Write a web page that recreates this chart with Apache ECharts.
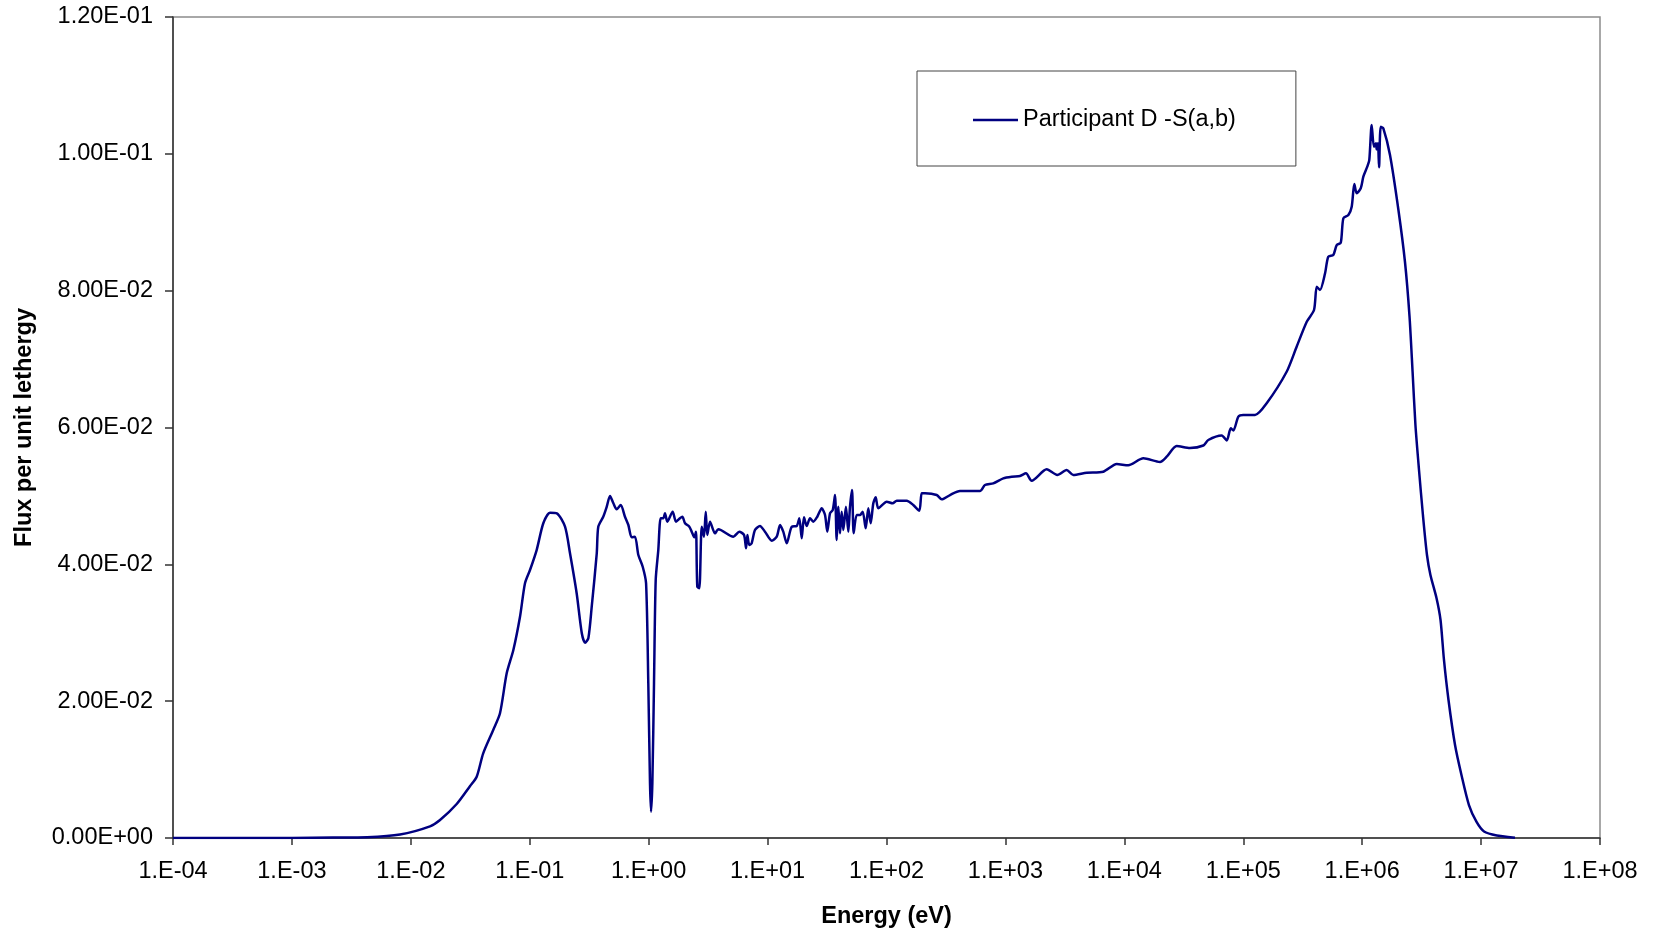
<!DOCTYPE html>
<html>
<head>
<meta charset="utf-8">
<title>Participant D -S(a,b) flux spectrum</title>
<script src="https://cdn.jsdelivr.net/npm/echarts@6/dist/echarts.min.js"></script>
<style>
  html, body { margin: 0; padding: 0; background: #ffffff; }
  #chart { width: 1653px; height: 936px; }
</style>
</head>
<body>
<div id="chart"></div>
<script>
// Neutron energy grid (eV)
const energy = [
  1e-4, 3.16e-4, 1e-3, 2.21e-3, 4.28e-3, 8.11e-3, 1.45e-2, 1.76e-2, 2.43e-2, 3.15e-2,
  3.58e-2, 4.06e-2, 4.93e-2, 5.62e-2, 6.40e-2, 7.28e-2, 8.28e-2, 9.12e-2, 0.1005, 0.1143,
  0.130, 0.148, 0.169, 0.198, 0.218, 0.248, 0.274, 0.292, 0.311, 0.332,
  0.366, 0.377, 0.415, 0.444, 0.473, 0.505, 0.538, 0.582, 0.632, 0.675,
  0.719, 0.767, 0.819, 0.891, 0.951, 0.993, 1.026, 1.047, 1.074, 1.109,
  1.146, 1.205, 1.262, 1.327, 1.371, 1.435, 1.592, 1.698, 1.832, 1.919,
  2.023, 2.198, 2.301, 2.421, 2.500, 2.564, 2.667, 2.793, 2.917, 3.020,
  3.112, 3.281, 3.614, 3.855, 5.152, 5.781, 6.339, 6.592, 6.761, 7.015,
  7.345, 7.834, 8.630, 9.506, 10.84, 11.94, 12.74, 13.55, 14.49, 15.96,
  17.58, 18.49, 19.36, 20.23, 21.33, 22.75, 24.21, 26.18, 28.51, 30.41,
  31.77, 33.50, 35.32, 36.90, 38.11, 39.36, 40.64, 41.98, 43.35, 45.60,
  47.75, 49.32, 51.29, 52.97, 56.10, 59.84, 63.10, 66.83, 70.31, 73.62,
  77.45, 81.10, 85.31, 100.5, 112.7, 121.9, 147.9, 167.9, 188.8, 197.7,
  210.9, 264.2, 291.1, 342.0, 415.0, 610.9, 673.0, 790.7, 959.4, 1130,
  1327, 1489, 1663, 2223, 2729, 3273, 3724, 4831, 6653, 8630,
  10790, 14450, 19950, 22700, 27540, 35650, 46130, 50820, 65920, 72610,
  78520, 82600, 91000, 1.0e5, 1.256e5, 1.574e5, 2.317e5, 2.812e5, 3.420e5, 3.936e5,
  4.150e5, 4.416e5, 4.875e5, 5.188e5, 5.715e5, 6.109e5, 6.607e5, 6.950e5, 7.656e5, 8.166e5,
  8.590e5, 8.995e5, 9.727e5, 1.023e6, 1.104e6, 1.148e6, 1.202e6, 1.256e6, 1.306e6, 1.324e6,
  1.358e6, 1.387e6, 1.432e6, 1.507e6, 1.714e6, 2.018e6, 2.291e6, 2.500e6, 2.655e6, 2.805e6,
  3.006e6, 3.243e6, 3.508e6, 3.750e6, 4.217e6, 4.560e6, 4.875e6, 5.321e6, 6.039e6, 6.839e6,
  7.907e6, 9.162e6, 1.059e7, 1.355e7, 1.928e7
];

// Flux per unit lethargy at each energy
const flux = [
  0, 0, 0.00001, 0.00007, 0.00012, 0.00051, 0.00171, 0.00263, 0.00497, 0.0076,
  0.00896, 0.01238, 0.01579, 0.01823, 0.02407, 0.02748, 0.03234, 0.03723, 0.03917, 0.04209,
  0.04600, 0.04755, 0.04746, 0.04550, 0.04161, 0.03577, 0.02992, 0.02855, 0.02919, 0.03381,
  0.04161, 0.04550, 0.04696, 0.04842, 0.04999, 0.04892, 0.04804, 0.04867, 0.04696, 0.04575,
  0.04395, 0.04404, 0.04136, 0.03965, 0.03723, 0.02261, 0.00800, 0.00384, 0.00800, 0.02261,
  0.03771, 0.04209, 0.04673, 0.04673, 0.04746, 0.04623, 0.04769, 0.04623, 0.04673, 0.04696,
  0.04600, 0.04550, 0.04477, 0.04395, 0.04477, 0.03673, 0.03650, 0.04550, 0.04404, 0.04769,
  0.04429, 0.04623, 0.04453, 0.04512, 0.04404, 0.04477, 0.04429, 0.04234, 0.04429, 0.04283,
  0.04307, 0.04502, 0.04560, 0.04477, 0.04345, 0.04404, 0.04575, 0.04477, 0.04307, 0.04550,
  0.04560, 0.04673, 0.04380, 0.04687, 0.04560, 0.04673, 0.04623, 0.04696, 0.04819, 0.04721,
  0.04477, 0.04746, 0.04794, 0.05013, 0.04356, 0.04842, 0.04453, 0.04769, 0.04502, 0.04842,
  0.04477, 0.04842, 0.05086, 0.04453, 0.04721, 0.04721, 0.04769, 0.04527, 0.04819, 0.04600,
  0.04892, 0.04980, 0.04819, 0.04915, 0.04892, 0.04930, 0.04930, 0.04867, 0.04784, 0.05038,
  0.05038, 0.05013, 0.04950, 0.05013, 0.05072, 0.05072, 0.05160, 0.05184, 0.05257, 0.05281,
  0.05291, 0.05330, 0.05222, 0.05389, 0.05306, 0.05379, 0.05306, 0.05339, 0.05354, 0.05466,
  0.05447, 0.05550, 0.05496, 0.05573, 0.05730, 0.05700, 0.05737, 0.05817, 0.05883, 0.05810,
  0.05988, 0.05956, 0.06158, 0.06183, 0.06183, 0.06354, 0.06815, 0.07181, 0.07546, 0.07717,
  0.08058, 0.08010, 0.08254, 0.08496, 0.08521, 0.08667, 0.08701, 0.09058, 0.09106, 0.09227,
  0.09559, 0.09423, 0.09496, 0.09666, 0.09812, 0.09910, 0.10421, 0.10104, 0.10154, 0.10066,
  0.10154, 0.09803, 0.10396, 0.10373, 0.09983, 0.09179, 0.08419, 0.07630, 0.06811, 0.06036,
  0.05379, 0.04721, 0.04136, 0.03844, 0.03508, 0.03186, 0.02602, 0.02017, 0.01359, 0.00921,
  0.00482, 0.00234, 0.00095, 0.00037, 0.00004
];

const seriesName = 'Participant D -S(a,b)';
const xAxisTitle = 'Energy (eV)';
const yAxisTitle = 'Flux per unit lethergy';

const FONT = '"Liberation Sans", Arial, sans-serif';
const LINE_COLOR = '#000080';

function pad2(n) { return (n < 10 ? '0' : '') + n; }

// Tick label like 1.E-04
function energyLabel(v) {
  const e = Math.round(Math.log10(v));
  return '1.E' + (e < 0 ? '-' : '+') + pad2(Math.abs(e));
}

// Tick label like 2.00E-02
function fluxLabel(v) {
  const s = Number(v).toExponential(2).split('e');
  const e = parseInt(s[1], 10);
  return s[0] + 'E' + (e < 0 ? '-' : '+') + pad2(Math.abs(e));
}

const points = energy.map((e, i) => [e, flux[i]]);

const chart = echarts.init(document.getElementById('chart'), null, { renderer: 'canvas' });

chart.setOption({
  backgroundColor: '#ffffff',
  animation: false,
  textStyle: { fontFamily: FONT },
  grid: {
    left: 173, right: 53, top: 17, bottom: 98,
    show: true, borderColor: '#8c8c8c', borderWidth: 1.5, backgroundColor: '#ffffff'
  },
  legend: {
    left: 917, top: 71,
    orient: 'horizontal',
    padding: [37, 60, 34, 56],
    borderColor: '#444444', borderWidth: 1,
    backgroundColor: '#ffffff',
    itemWidth: 45, itemHeight: 2.5,
    textStyle: { fontFamily: FONT, fontSize: 23.5, color: '#000000' },
    data: [{ name: seriesName, icon: 'rect', itemStyle: { color: LINE_COLOR } }]
  },
  xAxis: {
    type: 'log',
    logBase: 10,
    min: 1e-4, max: 1e8,
    interval: 1,
    name: xAxisTitle,
    nameLocation: 'middle',
    nameGap: 67,
    nameTextStyle: { fontFamily: FONT, fontSize: 23.5, fontWeight: 'bold', color: '#000000' },
    axisLine: { show: true, onZero: false, lineStyle: { color: '#333333', width: 1.5 } },
    axisTick: { show: true, inside: false, length: 7, lineStyle: { color: '#333333', width: 1.5 } },
    minorTick: { show: false },
    splitLine: { show: false },
    axisLabel: {
      margin: 22, fontFamily: FONT, fontSize: 23.5, color: '#000000',
      showMinLabel: true, showMaxLabel: true,
      formatter: energyLabel
    }
  },
  yAxis: {
    type: 'value',
    min: 0, max: 0.12, interval: 0.02,
    name: yAxisTitle,
    nameLocation: 'middle',
    nameGap: 136,
    nameRotate: 90,
    nameTextStyle: { fontFamily: FONT, fontSize: 23.5, fontWeight: 'bold', color: '#000000' },
    axisLine: { show: true, lineStyle: { color: '#333333', width: 1.5 } },
    axisTick: { show: true, inside: false, length: 8, lineStyle: { color: '#333333', width: 1.5 } },
    splitLine: { show: false },
    axisLabel: {
      margin: 20, fontFamily: FONT, fontSize: 23.5, color: '#000000',
      formatter: fluxLabel
    }
  },
  series: [{
    name: seriesName,
    type: 'line',
    data: points,
    symbol: 'none',
    showSymbol: false,
    smooth: 0.25,
    clip: true,
    lineStyle: { color: LINE_COLOR, width: 2.5 },
    itemStyle: { color: LINE_COLOR }
  }]
});
</script>
</body>
</html>
